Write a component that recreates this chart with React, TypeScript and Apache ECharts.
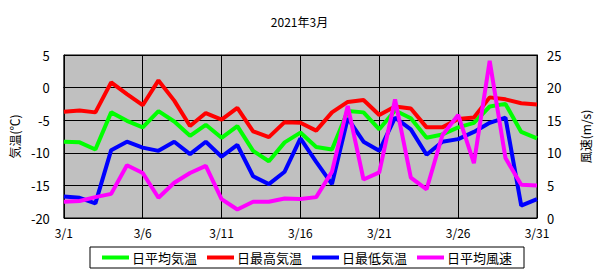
import React, { useEffect, useRef } from "react";
import * as echarts from "echarts";

const days: string[] = Array.from({ length: 31 }, (_, i) => `3/${i + 1}`);

const avgTemp = [-8.3, -8.4, -9.5, -3.8, -5.1, -6.1, -3.6, -5.2, -7.4, -5.7, -7.7, -5.9, -9.7, -11.3, -8.4, -6.9, -9.1, -9.5, -3.6, -3.8, -6.4, -3.5, -4.7, -7.7, -7.2, -6.1, -5.4, -2.9, -2.5, -6.8, -7.8];
const maxTemp = [-3.7, -3.5, -3.8, 0.8, -1.0, -2.7, 1.1, -2.0, -5.9, -3.9, -4.9, -3.1, -6.7, -7.6, -5.3, -5.4, -6.6, -3.8, -2.2, -1.9, -4.2, -2.9, -3.2, -6.1, -6.1, -4.8, -4.6, -1.5, -1.8, -2.4, -2.6];
const minTemp = [-16.7, -16.9, -17.75, -9.6, -8.3, -9.2, -9.7, -8.3, -10.2, -8.3, -10.6, -8.8, -13.6, -14.8, -12.9, -7.8, -11.4, -14.8, -4.7, -8.3, -9.7, -4.6, -6.4, -10.3, -8.3, -7.9, -6.8, -5.4, -4.6, -18.1, -17.1];
const windAvg = [2.5, 2.6, 3.2, 3.7, 8.1, 6.9, 3.1, 5.4, 6.9, 8.0, 2.9, 1.3, 2.5, 2.5, 3.0, 2.9, 3.2, 7.1, 17.2, 5.9, 7.0, 18.2, 6.2, 4.4, 12.7, 15.8, 8.4, 24.1, 9.2, 5.1, 5.0];

const FONT = "'Noto Sans CJK JP', sans-serif";

export default function App() {
  const ref = useRef<HTMLDivElement>(null);
  useEffect(() => {
    if (!ref.current) return;
    const chart = echarts.init(ref.current, null, { renderer: "svg" });
    const lineSeries = (name: string, data: number[], color: string, yAxisIndex: number) => ({
      name,
      type: "line",
      data,
      yAxisIndex,
      showSymbol: false,
      symbol: "none",
      lineStyle: { color, width: 4 },
      itemStyle: { color },
    });
    chart.setOption({
      animation: false,
      backgroundColor: "#ffffff",
      textStyle: { fontFamily: FONT },
      title: {
        text: "2021年3月",
        left: "center",
        top: 10,
        textStyle: { fontSize: 12, fontWeight: "normal", color: "#000", fontFamily: FONT },
      },
      legend: {
        left: 90,
        top: 247,
        width: 427,
        borderColor: "#000",
        borderWidth: 1,
        padding: [4, 12, 4, 12],
        itemGap: 10,
        itemWidth: 27,
        itemHeight: 4,
        icon: "rect",
        textStyle: { fontSize: 13, color: "#000", fontFamily: FONT, padding: [0, 0, 0, -2] },
        data: ["日平均気温", "日最高気温", "日最低気温", "日平均風速"],
      },
      grid: {
        left: 57,
        right: 52,
        top: 55,
        bottom: 59,
        show: true,
        backgroundColor: "#c0c0c0",
        borderColor: "#000",
        borderWidth: 1,
      },
      xAxis: {
        type: "category",
        data: days,
        boundaryGap: false,
        axisLine: { show: true, lineStyle: { color: "#000" } },
        axisTick: { show: false },
        axisLabel: { interval: 4, color: "#000", fontSize: 12, margin: 8, fontFamily: FONT },
        splitLine: { show: true, interval: 4, lineStyle: { color: "#000", width: 1 } },
      },
      yAxis: [
        {
          type: "value",
          min: -20,
          max: 5,
          interval: 5,
          name: "気温(℃)",
          nameLocation: "middle",
          nameRotate: 90,
          nameGap: 38,
          nameTextStyle: { color: "#000", fontSize: 12, fontFamily: FONT },
          axisLine: { show: true, lineStyle: { color: "#000" } },
          axisTick: { show: false },
          axisLabel: { color: "#000", fontSize: 13, margin: 14, fontFamily: FONT },
          splitLine: { show: true, lineStyle: { color: "#000", width: 1 } },
        },
        {
          type: "value",
          min: 0,
          max: 25,
          interval: 5,
          name: "風速(m/s)",
          nameLocation: "middle",
          nameRotate: 90,
          nameGap: 42,
          nameTextStyle: { color: "#000", fontSize: 12, fontFamily: FONT },
          axisLine: { show: true, lineStyle: { color: "#000" } },
          axisTick: { show: false },
          axisLabel: { color: "#000", fontSize: 13, margin: 10, fontFamily: FONT },
          splitLine: { show: false },
        },
      ],
      series: [
        lineSeries("日平均気温", avgTemp, "#00ff00", 0),
        lineSeries("日最高気温", maxTemp, "#ff0000", 0),
        lineSeries("日最低気温", minTemp, "#0000ff", 0),
        lineSeries("日平均風速", windAvg, "#ff00ff", 1),
      ],
    });
    return () => chart.dispose();
  }, []);
  return (
    <div
      ref={ref}
      style={{ position: "fixed", left: 0, top: 0, width: 599, height: 277 }}
    />
  );
}
